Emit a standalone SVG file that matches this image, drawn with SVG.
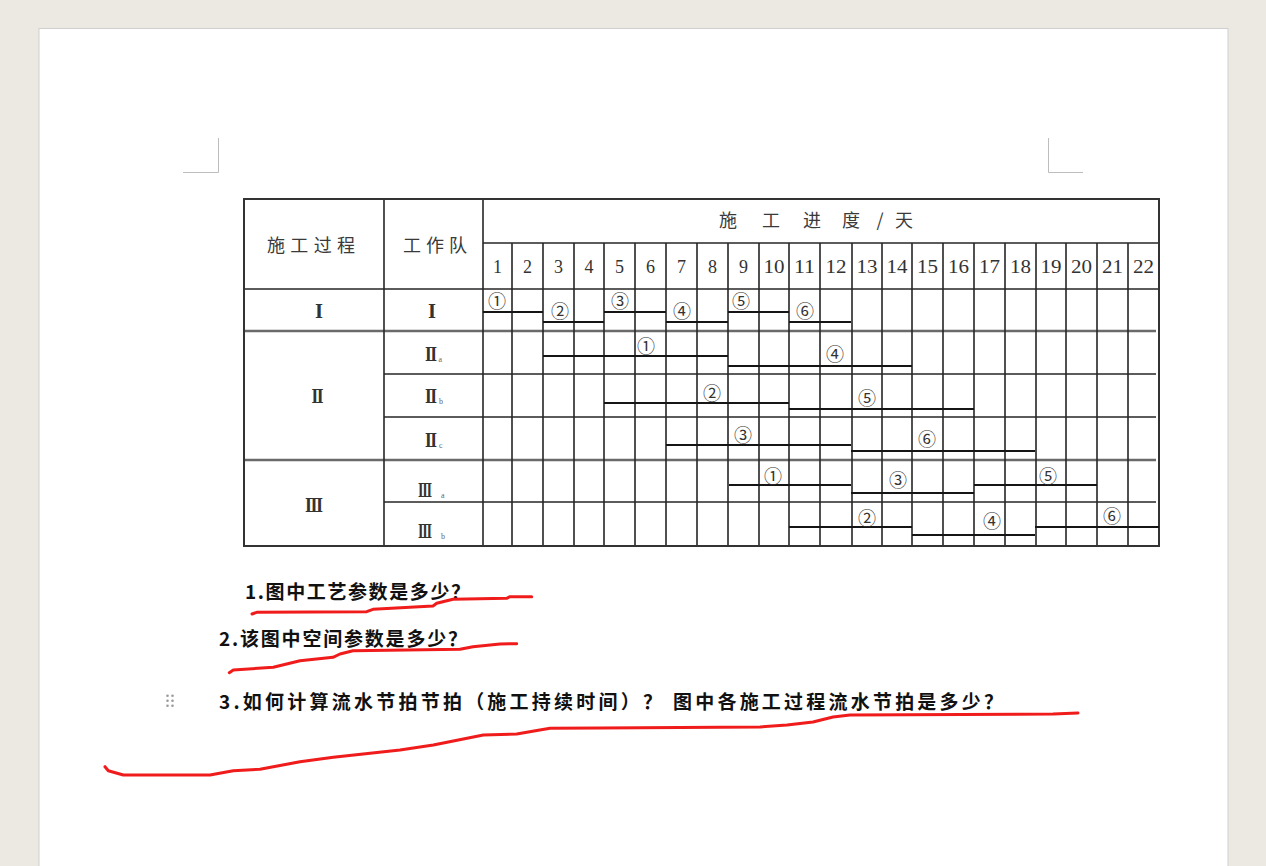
<svg xmlns="http://www.w3.org/2000/svg" width="1266" height="866" viewBox="0 0 1266 866">
<style>
.grid{stroke:#262626;stroke-width:1.6;fill:none}
.sep{stroke:#6a6a6a;stroke-width:2.4;fill:none}
.border{stroke:#333;stroke-width:2;fill:none}
.bar{stroke:#151515;stroke-width:2.2;fill:none}
.cjk{font-family:"Noto Sans CJK SC","Noto Sans",sans-serif;fill:#3a3a3a}
.num{font-family:"Liberation Serif","Times New Roman",serif;font-size:18px;fill:#333;text-anchor:middle}
.rom{font-family:"DejaVu Serif","Liberation Serif","Noto Sans CJK SC",serif;font-size:18px;font-weight:bold;fill:#333;text-anchor:middle}
.sub{font-family:"Liberation Serif",serif;font-size:8px;fill:#666}
.circ{font-family:"Noto Sans CJK SC","DejaVu Sans",sans-serif;font-size:18px;fill:#333;text-anchor:middle}
.q{font-family:"Noto Sans CJK SC","Noto Sans",sans-serif;font-size:19px;font-weight:bold;fill:#111}
.pen{stroke:#f01c1c;stroke-width:3;fill:none;stroke-linecap:round;stroke-linejoin:round}
.mark{stroke:#bdbdbd;stroke-width:1;fill:none}
</style>
<rect x="0" y="0" width="1266" height="866" fill="#ece8e2"/>
<g id="page">
<rect x="39" y="28.5" width="1189" height="860" fill="#ffffff" stroke="#cfcfcf" stroke-width="1"/>
<path class="mark" d="M218.5 138 V172.5 H183"/>
<path class="mark" d="M1048.5 138 V172.5 H1083"/>
</g>
<g id="table-grid">
<line class="grid" x1="483" y1="243" x2="1159" y2="243"/>
<line class="grid" x1="244" y1="289" x2="1159" y2="289"/>
<line class="sep" x1="244" y1="331" x2="1156" y2="331"/>
<line class="grid" x1="384" y1="374" x2="1156" y2="374"/>
<line class="grid" x1="384" y1="417" x2="1156" y2="417"/>
<line class="sep" x1="244" y1="460" x2="1156" y2="460"/>
<line class="grid" x1="384" y1="502" x2="1156" y2="502"/>
<line class="grid" x1="384" y1="199" x2="384" y2="546"/>
<line class="grid" x1="483" y1="199" x2="483" y2="546"/>
<path class="grid" d="M512 243V546M543 243V546M574 243V546M604 243V546M635 243V546M666 243V546M697 243V546M728 243V546M759 243V546M789 243V546M820 243V546M852 243V546M882 243V546M912 243V546M943 243V546M974 243V546M1005 243V546M1036 243V546M1066 243V546M1097 243V546M1128 243V546"/>
<path class="border" d="M1159 527V199H244V546H1159V527"/>
</g>
<g id="table-header">
<text class="cjk" x="267" y="252" font-size="18" textLength="88" lengthAdjust="spacing">施工过程</text>
<text class="cjk" x="403" y="252" font-size="18" textLength="64" lengthAdjust="spacing">工作队</text>
<text class="cjk" font-size="18" y="227" text-anchor="middle"><tspan x="728">施</tspan><tspan x="771">工</tspan><tspan x="812">进</tspan><tspan x="851">度</tspan><tspan x="880">/</tspan><tspan x="904">天</tspan></text>
<g class="num">
<text x="497.5" y="273">1</text><text x="527.5" y="273">2</text><text x="558.5" y="273">3</text><text x="589" y="273">4</text><text x="619.5" y="273">5</text><text x="650.5" y="273">6</text><text x="681.5" y="273">7</text><text x="712.5" y="273">8</text><text x="743.5" y="273">9</text>
<text x="774" y="273" textLength="21" lengthAdjust="spacingAndGlyphs">10</text><text x="804.5" y="273" textLength="21" lengthAdjust="spacingAndGlyphs">11</text><text x="836" y="273" textLength="21" lengthAdjust="spacingAndGlyphs">12</text><text x="867" y="273" textLength="21" lengthAdjust="spacingAndGlyphs">13</text><text x="897" y="273" textLength="21" lengthAdjust="spacingAndGlyphs">14</text><text x="927.5" y="273" textLength="21" lengthAdjust="spacingAndGlyphs">15</text><text x="958.5" y="273" textLength="21" lengthAdjust="spacingAndGlyphs">16</text><text x="989.5" y="273" textLength="21" lengthAdjust="spacingAndGlyphs">17</text><text x="1020.5" y="273" textLength="21" lengthAdjust="spacingAndGlyphs">18</text><text x="1051" y="273" textLength="21" lengthAdjust="spacingAndGlyphs">19</text><text x="1081.5" y="273" textLength="21" lengthAdjust="spacingAndGlyphs">20</text><text x="1112.5" y="273" textLength="21" lengthAdjust="spacingAndGlyphs">21</text><text x="1143.5" y="273" textLength="21" lengthAdjust="spacingAndGlyphs">22</text>
</g>
</g>
<g id="row-labels">
<text class="rom" x="319" y="318" textLength="8" lengthAdjust="spacingAndGlyphs">Ⅰ</text>
<text class="rom" x="432" y="318" textLength="8" lengthAdjust="spacingAndGlyphs">Ⅰ</text>
<text class="rom" x="317.5" y="403" textLength="12" lengthAdjust="spacingAndGlyphs">Ⅱ</text>
<text class="rom" x="314" y="512" textLength="18" lengthAdjust="spacingAndGlyphs">Ⅲ</text>
<text class="rom" x="431" y="361" textLength="12" lengthAdjust="spacingAndGlyphs">Ⅱ</text><text class="sub" x="438.5" y="362">a</text>
<text class="rom" x="431" y="403" textLength="12" lengthAdjust="spacingAndGlyphs">Ⅱ</text><text class="sub" x="439" y="404">b</text>
<text class="rom" x="431" y="447" textLength="12" lengthAdjust="spacingAndGlyphs">Ⅱ</text><text class="sub" x="439" y="448">c</text>
<text class="rom" x="425" y="497" textLength="14" lengthAdjust="spacingAndGlyphs">Ⅲ</text><text class="sub" x="441" y="498">a</text>
<text class="rom" x="425" y="538" textLength="14" lengthAdjust="spacingAndGlyphs">Ⅲ</text><text class="sub" x="441" y="539">b</text>
</g>
<g id="bars">
<path class="bar" d="M483 312H543M604 312H666M728 312H789"/>
<path class="bar" d="M543 322H604M666 322H728M789 322H851"/>
<path class="bar" d="M543 356H728M728 366H912"/>
<path class="bar" d="M604 403H789M789 409H974"/>
<path class="bar" d="M666 445H851M851 451H1035"/>
<path class="bar" d="M729 485H851M851 493H974M974 485H1097"/>
<path class="bar" d="M789 527H912M912 535H1035M1035 527H1159"/>
</g>
<g id="bar-labels" class="circ">
<text x="497" y="308">①</text><text x="560" y="318">②</text><text x="620" y="308">③</text><text x="682" y="318">④</text><text x="741" y="308">⑤</text><text x="805" y="318">⑥</text>
<text x="646" y="353">①</text><text x="835" y="361">④</text>
<text x="712" y="400">②</text><text x="867" y="405">⑤</text>
<text x="743" y="442">③</text><text x="927" y="446">⑥</text>
<text x="773" y="483">①</text><text x="898" y="487">③</text><text x="1048" y="483">⑤</text>
<text x="867" y="525">②</text><text x="992" y="528">④</text><text x="1112" y="523">⑥</text>
</g>
<g id="questions">
<text class="q" x="245" y="599" textLength="225" lengthAdjust="spacing">1.图中工艺参数是多少？</text>
<text class="q" x="219" y="646" textLength="248" lengthAdjust="spacing">2.该图中空间参数是多少？</text>
<text class="q" x="219" y="709" textLength="443" lengthAdjust="spacing">3.如何计算流水节拍节拍（施工持续时间）？</text>
<text class="q" x="673" y="709" textLength="330" lengthAdjust="spacing">图中各施工过程流水节拍是多少？</text>
<g id="drag-handle" fill="#9a9a9a">
<circle cx="167.5" cy="695.7" r="1.3"/><circle cx="172.5" cy="695.7" r="1.3"/>
<circle cx="167.5" cy="700.7" r="1.3"/><circle cx="172.5" cy="700.7" r="1.3"/>
<circle cx="167.5" cy="705.7" r="1.3"/><circle cx="172.5" cy="705.7" r="1.3"/>
</g>
</g>
<g id="annotations">
<path class="pen" d="M252 614 L256.7 612.3 L366.7 611.7 L373 609.3 L433 606 L436.7 603.3 L453 599.3 L506.7 598.3 L510 596.7 L531.7 596.7"/>
<path class="pen" d="M229.3 672.7 L233.3 670 L273.3 667.3 L300 660.7 L333 657.3 L340 654 L353 650.7 L460 649.3 L473 646.7 L500 644 L516.7 643.7"/>
<path class="pen" d="M105 766.7 L108.3 770.7 L123.3 775 L210 775 L233.3 770.7 L260 769.3 L300 761.7 L333.3 757.3 L400 750 L433.3 745 L483.3 735 L516.7 734 L550 728.3 L600 728 L760 727 L787 725 L813 722 L833 717 L850 715 L1053 714 L1078 713"/>
</g>
</svg>
